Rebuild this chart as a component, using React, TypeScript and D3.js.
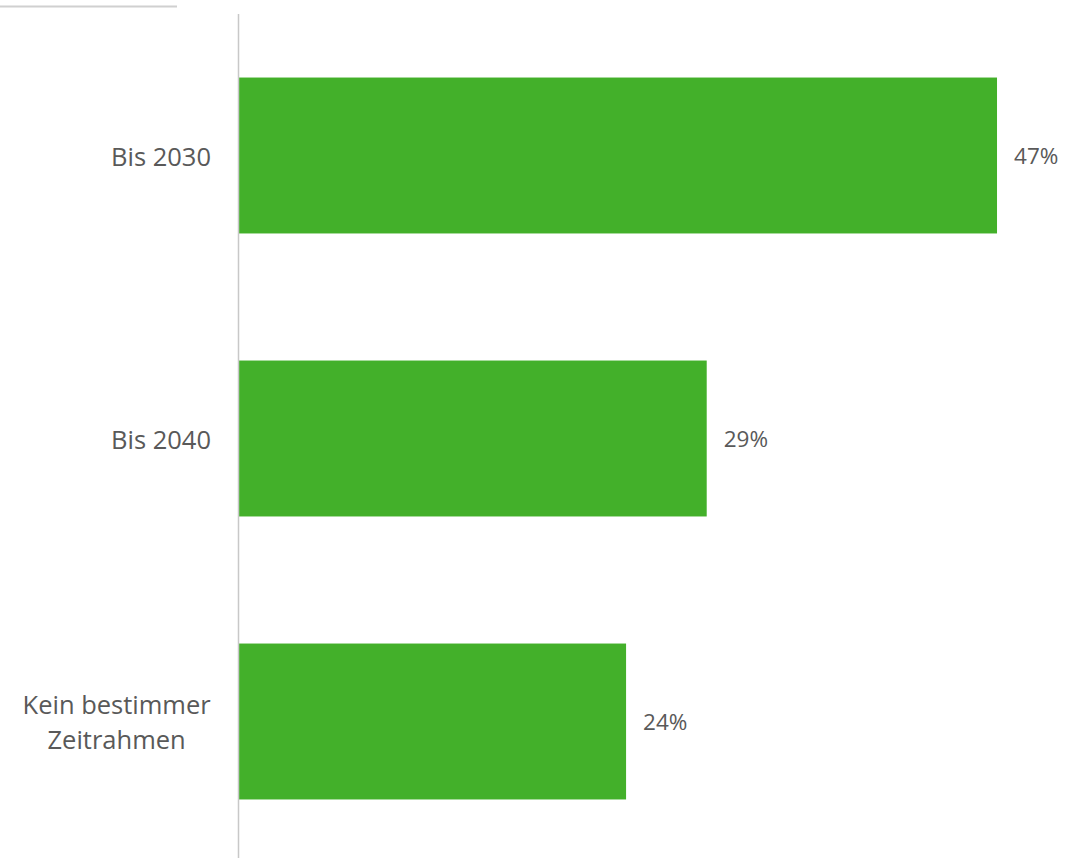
import React, { useEffect, useRef } from "react";
import * as d3 from "d3";

const categories: string[][] = [["Bis 2030"], ["Bis 2040"], ["Kein bestimmer", "Zeitrahmen"]];
const values: number[] = [47, 29, 24];
const valueLabels: string[] = ["47%", "29%", "24%"];

export default function App() {
  const W = 1089, H = 858;
  const ref = useRef<SVGGElement>(null);
  const x = d3.scaleLinear().domain([0, 50]).range([239, 239 + 806.4]);
  const y = d3.scaleBand<number>().domain(d3.range(categories.length)).range([14, 863]).paddingInner(0.449).paddingOuter(0.2245);
  const font = "'Open Sans', sans-serif";
  const color = "#595959";
  const labelRight = 211;

  useEffect(() => {
    if (!ref.current) return;
    d3.select(ref.current).selectAll<SVGTextElement, unknown>("text").each(function () {
      const t = this as SVGTextElement;
      const w = t.getBBox().width;
      const cx = labelRight - w / 2;
      d3.select(t).attr("x", cx).selectAll("tspan").attr("x", cx);
    });
  }, []);

  return (
    <svg width={W} height={H} style={{ position: "absolute", left: 0, top: 0, background: "#fff" }}>
      <line x1={0} x2={177} y1={6.5} y2={6.5} stroke="#d0d0d0" strokeWidth={2} />
      {values.map((v, i) => (
        <rect key={i} x={x(0)} y={y(i)!} width={x(v) - x(0)} height={y.bandwidth()} fill="#43b02a" />
      ))}
      <line x1={238.5} x2={238.5} y1={14} y2={H} stroke="#c8c8c8" strokeWidth={1.5} />
      <g ref={ref}>
        {categories.map((lines, i) => {
          const cy = y(i)! + y.bandwidth() / 2;
          const lh = 34.5;
          return (
            <text key={i} x={labelRight} y={cy - ((lines.length - 1) * lh) / 2} textAnchor="middle" fontFamily={font} fontSize={25.5} fill={color} dominantBaseline="central">
              {lines.map((l, j) => (
                <tspan key={j} x={labelRight} dy={j === 0 ? 0 : lh}>{l}</tspan>
              ))}
            </text>
          );
        })}
      </g>
      {values.map((v, i) => (
        <text key={i} x={x(v) + 17} y={y(i)! + y.bandwidth() / 2} fontFamily={font} fontSize={22.5} fill={color} dominantBaseline="central">
          {valueLabels[i]}
        </text>
      ))}
    </svg>
  );
}
